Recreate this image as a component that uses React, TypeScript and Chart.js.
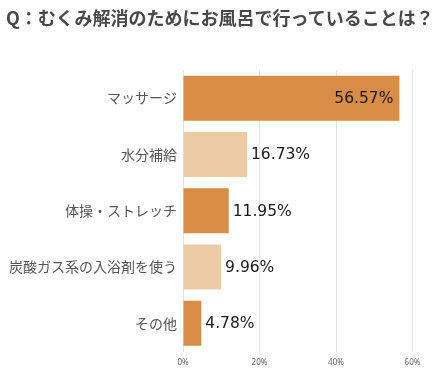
import React, { useEffect, useRef } from "react";
import { Chart, registerables } from "chart.js";

Chart.register(...registerables);

const title = "Q：むくみ解消のためにお風呂で行っていることは？";
const categories = ["マッサージ", "水分補給", "体操・ストレッチ", "炭酸ガス系の入浴剤を使う", "その他"];
const values = [56.57, 16.73, 11.95, 9.96, 4.78];
const barColors = ["#D98C45", "#EDCBA6", "#D98C45", "#EDCBA6", "#D98C45"];
const xTicks = [0, 20, 40, 60];

const labelPlugin = {
  id: "valueLabels",
  afterDatasetsDraw(chart: any) {
    const { ctx, chartArea } = chart;
    const meta = chart.getDatasetMeta(0);
    ctx.save();
    ctx.font = "15.5px 'DejaVu Sans'";
    ctx.fillStyle = "#1a1a1a";
    ctx.textBaseline = "middle";
    meta.data.forEach((el: any, i: number) => {
      const text = values[i].toFixed(2) + "%";
      const w = ctx.measureText(text).width;
      if (el.x + 5 + w > chartArea.right) {
        ctx.textAlign = "right";
        ctx.fillText(text, el.x - 6, el.y + 1);
      } else {
        ctx.textAlign = "left";
        ctx.fillText(text, el.x + 4, el.y + 1);
      }
    });
    ctx.restore();
  },
};

export default function App() {
  const ref = useRef<HTMLCanvasElement | null>(null);
  useEffect(() => {
    if (!ref.current) return;
    const chart = new Chart(ref.current, {
      type: "bar",
      data: {
        labels: categories,
        datasets: [
          {
            data: values,
            backgroundColor: barColors,
            borderWidth: 0,
            barPercentage: 1,
            categoryPercentage: 0.8,
          },
        ],
      },
      options: {
        indexAxis: "y",
        responsive: false,
        animation: false,
        layout: { padding: { top: 70, right: 28.5, left: 0, bottom: 0 } },
        plugins: {
          legend: { display: false },
          tooltip: { enabled: false },
          title: { display: false },
        },
        scales: {
          x: {
            min: 0,
            max: 60,
            afterFit: (s: any) => {
              s.height = 23.5;
            },
            afterBuildTicks: (s: any) => {
              s.ticks = xTicks.map((v) => ({ value: v }));
            },
            ticks: {
              callback: (v: any) => v + "%",
              font: { size: 8, family: "'Noto Sans', sans-serif" },
              color: "#666",
              padding: 6,
            },
            grid: { color: "#e3e3e3", drawTicks: false, lineWidth: 1 },
            border: { display: false },
          },
          y: {
            afterFit: (s: any) => {
              s.width = 183;
            },
            ticks: {
              font: { size: 14, family: "'Noto Sans CJK JP', sans-serif" },
              color: "#555",
              padding: 6,
            },
            grid: { display: false, drawTicks: false },
            border: { display: true, color: "#e3e3e3" },
          },
        },
      },
      plugins: [labelPlugin],
    });
    return () => chart.destroy();
  }, []);

  return (
    <div style={{ position: "absolute", left: 0, top: 0, width: 441, height: 375, background: "#fff" }}>
      <div
        style={{
          position: "absolute",
          left: 6,
          top: 5,
          fontFamily: "'Noto Sans CJK JP', sans-serif",
          fontWeight: 700,
          fontSize: 18,
          color: "#484848",
          lineHeight: "24px",
          whiteSpace: "nowrap",
        }}
      >
        {title}
      </div>
      <canvas ref={ref} width={441} height={375} style={{ display: "block" }} />
    </div>
  );
}
